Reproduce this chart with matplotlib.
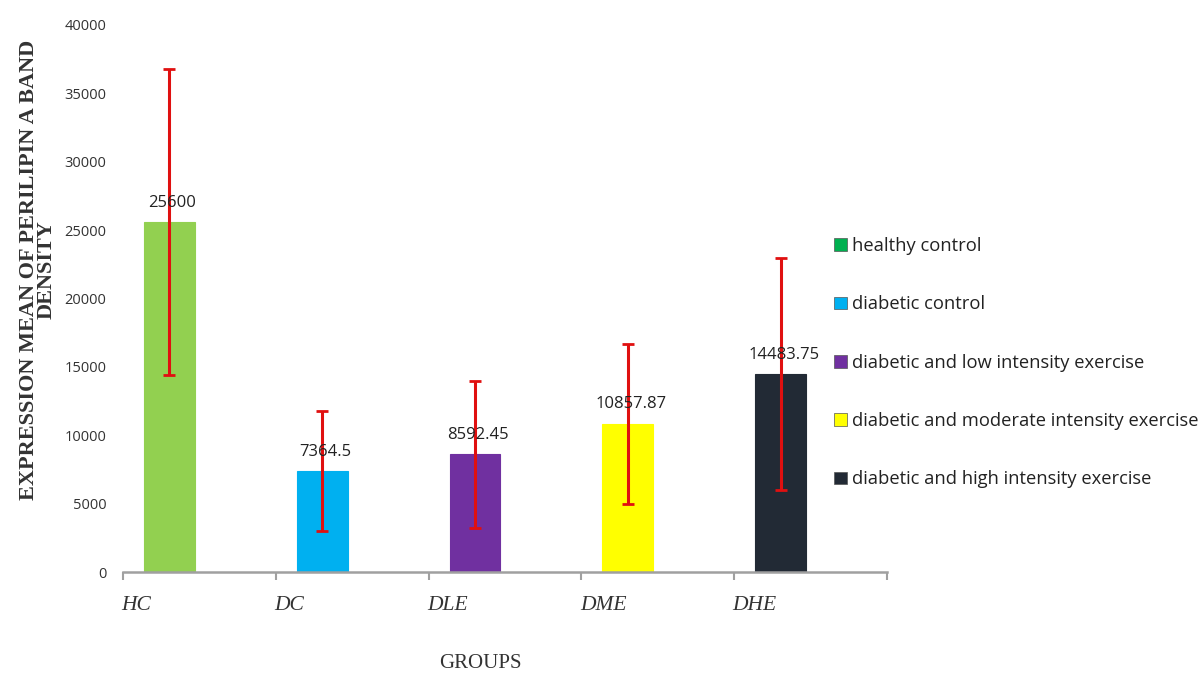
import matplotlib
matplotlib.use("Agg")
import matplotlib.pyplot as plt
from matplotlib.patches import Patch
import matplotlib.transforms as mtransforms

groups = ["HC", "DC", "DLE", "DME", "DHE"]
legend_labels = ["healthy control", "diabetic control", "diabetic and low intensity exercise",
                 "diabetic and moderate intensity exercise", "diabetic and high intensity exercise"]
means = [25600, 7364.5, 8592.45, 10857.87, 14483.75]
value_labels = ["25600", "7364.5", "8592.45", "10857.87", "14483.75"]
errors = [11200, 4400, 5400, 5850, 8500]
bar_colors = ["#92D050", "#00B0F0", "#7030A0", "#FFFF00", "#222A35"]
legend_colors = ["#00B050", "#00B0F0", "#7030A0", "#FFFF00", "#222A35"]
yticks = [0, 5000, 10000, 15000, 20000, 25000, 30000, 35000, 40000]

fig = plt.figure(figsize=(12.01, 6.77), dpi=100)
ax = fig.add_axes([123/1201, 1-572/677, (887-123)/1201, (572-25)/677])

offset = -0.196
xs = [i + offset for i in range(len(groups))]
ax.bar(xs, means, width=0.333, color=bar_colors, edgecolor=bar_colors, linewidth=0.8, zorder=2)
ax.errorbar(xs, means, yerr=errors, fmt="none", ecolor="#E01010", elinewidth=2.2,
            capsize=4, capthick=2, zorder=3)

for x, m, lab in zip(xs, means, value_labels):
    ax.annotate(lab, (x + 0.02, m), xytext=(0, 8), textcoords="offset points",
                ha="center", va="bottom", fontsize=12, family="Open Sans", color="#222222")

ax.set_xlim(-0.5, 4.5)
ax.set_ylim(0, 40000)
ax.set_yticks(yticks)
ax.set_yticklabels([str(t) for t in yticks], family="Open Sans", fontsize=10.5, color="#333333")
ax.tick_params(axis="y", length=0, pad=12)
ax.set_xticks([i - 0.5 for i in range(len(groups) + 1)])
ax.set_xticklabels([])
ax.tick_params(axis="x", length=6, color="#A0A0A0", width=1.5, direction="out")
for s in ["top", "right", "left"]:
    ax.spines[s].set_visible(False)
ax.spines["bottom"].set_color("#A0A0A0")
ax.spines["bottom"].set_linewidth(1.8)

trans = mtransforms.blended_transform_factory(ax.transData, fig.transFigure)
for i, g in enumerate(groups):
    ax.text(i - 0.5 - 0.01, 1 - 605/677, g, transform=trans, ha="left", va="center",
            fontsize=15.5, family="Liberation Serif", style="italic", color="#333333")

fig.text(480/1201, 1 - 663/677, "GROUPS", ha="center", va="center",
         fontsize=15, family="Liberation Serif", color="#333333")
fig.text(38/1201, 1 - 270/677, "EXPRESSION MEAN OF PERILIPIN A BAND\nDENSITY", rotation=90,
         ha="center", va="center", multialignment="center", fontsize=16,
         family="Liberation Serif", weight="bold", color="#333333", linespacing=0.82)

handles = [Patch(facecolor=c, edgecolor="#555555", linewidth=0.5) for c in legend_colors]
leg = fig.legend(handles, legend_labels, loc="upper left", bbox_to_anchor=(834/1201, 1 - 237/677),
                 frameon=False, prop={"family": "Open Sans", "size": 13.2},
                 handlelength=0.7, handleheight=0.7, handletextpad=0.3, labelspacing=2.2,
                 borderaxespad=0, borderpad=0)
for t in leg.get_texts():
    t.set_color("#222222")

fig.savefig("out.png", dpi=100)
